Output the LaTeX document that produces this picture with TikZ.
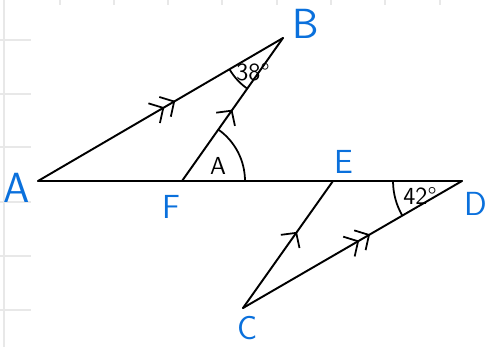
\documentclass[tikz,border=0pt]{standalone}
\usepackage{tikz}
\usetikzlibrary{arrows.meta, positioning, calc, angles, decorations.markings}
\usepackage{xcolor}
\definecolor{penblue}{RGB}{10,112,220}
\definecolor{gridgray}{RGB}{232,232,232}

\tikzset{
  seg/.style={line width=1.1pt, line cap=round},
  onebarb/.style={postaction={decorate, decoration={markings,
      mark=at position #1 with {\arrow{Straight Barb[length=6pt,width=13pt,line width=1pt]}}}}},
  twobarb/.style={postaction={decorate, decoration={markings,
      mark=at position #1 with {\arrow{Straight Barb[length=6pt,width=13pt,line width=1pt] Straight Barb[length=6pt,width=13pt,line width=1pt]}}}}},
  ptlabel/.style={text=penblue, font=\sffamily\fontsize{19}{19}\selectfont},
  anglabel/.style={font=\sffamily\fontsize{14}{14}\selectfont},
}

\begin{document}
\begin{tikzpicture}[x=0.02cm, y=-0.02cm]
  \useasboundingbox (0,0) rectangle (486,347);
  % faint ruled paper
  \draw[gridgray, line width=0.8pt] (4,0) -- (4,347);
  \foreach \y in {40,94,147,202,256,310} {
    \draw[gridgray, line width=0.8pt] (0,\y) -- (31,\y);
  }
  \foreach \x in {60,114,168,222,277,331,385,440} {
    \draw[gridgray, line width=0.8pt] (\x,0) -- (\x,5);
  }
  % points
  \coordinate (A) at (38,181);
  \coordinate (B) at (283,38);
  \coordinate (F) at (182,181);
  \coordinate (E) at (333,181);
  \coordinate (D) at (462,181);
  \coordinate (C) at (243,308);
  % lines with parallel marks
  \draw[seg] (A) -- (D);
  \draw[seg, twobarb=0.56] (A) -- (B);
  \draw[seg, onebarb=0.5] (F) -- (B);
  \draw[seg, onebarb=0.6] (C) -- (E);
  \draw[seg, twobarb=0.58] (C) -- (D);
  % angle arcs
  \pic[draw, line width=1pt, angle radius=1.24cm] {angle=A--B--F};
  \pic[draw, line width=1pt, angle radius=1.26cm] {angle=D--F--B};
  \pic[draw, line width=1pt, angle radius=1.38cm] {angle=A--D--C};
  \node[anglabel] (angB) at (253,72) {38\textdegree};
  \node[anglabel] (angF) at (218,166) {A};
  \node[anglabel] (angD) at (420,196) {42\textdegree};
  % point names
  \node[ptlabel, font=\sffamily\fontsize{24}{24}\selectfont] (labA) at (17,188) {A};
  \node[ptlabel, font=\sffamily\fontsize{24}{24}\selectfont] (labB) at (306,24) {B};
  \node[ptlabel] (labF) at (171,207) {F};
  \node[ptlabel] (labE) at (344,162) {E};
  \node[ptlabel] (labD) at (476,204) {D};
  \node[ptlabel] (labC) at (248,328) {C};
\end{tikzpicture}
\end{document}
